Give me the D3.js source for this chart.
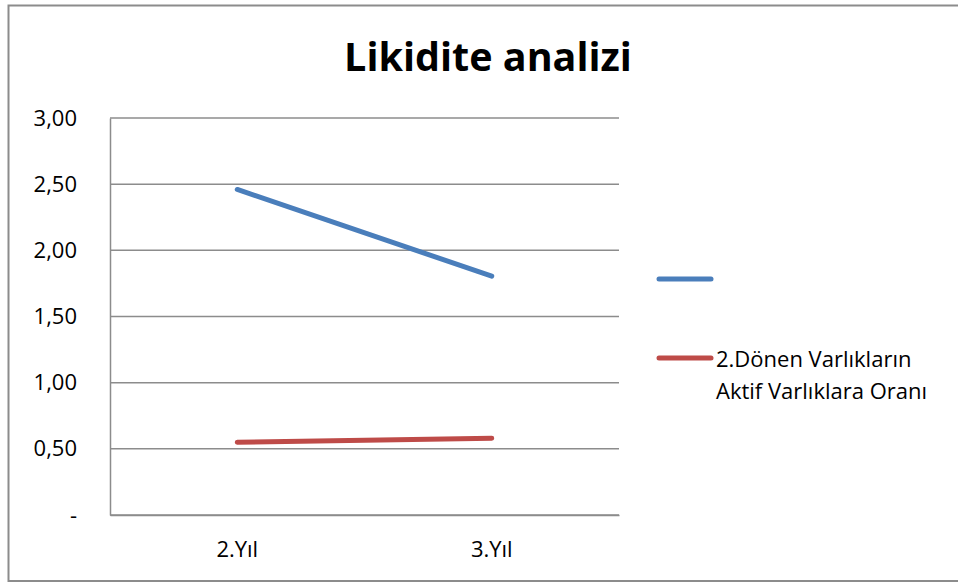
<!DOCTYPE html>
<html>
<head>
<meta charset="utf-8">
<script src="https://cdnjs.cloudflare.com/ajax/libs/d3/7.8.5/d3.min.js"></script>
<style>
  body { margin: 0; background: #fff; }
  text { font-family: "Open Sans", sans-serif; fill: #000; }
</style>
</head>
<body>
<script>
var categories = ["2.Yıl", "3.Yıl"];
var seriesNames = ["", "2.Dönen Varlıkların Aktif Varlıklara Oranı"];
var seriesColors = ["#4a7ebb", "#be4b48"];
var blueValues = [2.46, 1.805];
var redValues = [0.55, 0.58];
var yTicks = [0, 0.5, 1, 1.5, 2, 2.5, 3];
var yTickLabels = ["-", "0,50", "1,00", "1,50", "2,00", "2,50", "3,00"];

var svgWidth = 958, svgHeight = 583;
var margin = {top: 118, right: 339, bottom: 68, left: 110};
var width = svgWidth - margin.left - margin.right;
var height = svgHeight - margin.top - margin.bottom;

var svg = d3.select("body").append("svg")
  .attr("width", svgWidth)
  .attr("height", svgHeight);

// outer chart border
svg.append("rect")
  .attr("x", 8.5).attr("y", 5.5)
  .attr("width", 960).attr("height", 575.5)
  .attr("fill", "none")
  .attr("stroke", "#8c8c8c")
  .attr("stroke-width", 2);

svg.append("text")
  .attr("x", 488).attr("y", 71)
  .attr("text-anchor", "middle")
  .style("font-size", "39.5px")
  .style("font-weight", "bold")
  .text("Likidite analizi");

var chart = svg.append("g")
  .attr("transform", "translate(" + margin.left + "," + margin.top + ")");

var x = d3.scaleBand().domain(categories).range([0, width]);
var y = d3.scaleLinear().domain([0, 3]).range([height, 0]);

// gridlines
chart.selectAll(".grid")
  .data(yTicks)
  .enter().append("line")
  .attr("x1", 0).attr("x2", width)
  .attr("y1", d => y(d)).attr("y2", d => y(d))
  .attr("stroke", "#8c8c8c")
  .attr("stroke-width", 1.5);

// y axis
var leftAxis = d3.axisLeft(y)
  .tickValues(yTicks)
  .tickSize(0)
  .tickPadding(33)
  .tickFormat((d, i) => yTickLabels[i]);
var gy = chart.append("g").call(leftAxis);
gy.select(".domain").attr("stroke", "#8c8c8c").attr("stroke-width", 1.5);
gy.selectAll("text").style("font-size", "22px").style("font-family", "'Open Sans', sans-serif");

// x axis
var bottomAxis = d3.axisBottom(x).tickSize(0).tickPadding(26);
var gx = chart.append("g")
  .attr("transform", "translate(0," + height + ")")
  .call(bottomAxis);
gx.select(".domain").attr("stroke", "#8c8c8c").attr("stroke-width", 1.5);
gx.selectAll("text").style("font-size", "22px").style("font-family", "'Open Sans', sans-serif");

var line = d3.line()
  .x((d, i) => x(categories[i]) + x.bandwidth() / 2)
  .y(d => y(d));

[blueValues, redValues].forEach(function(vals, i) {
  chart.append("path")
    .datum(vals)
    .attr("d", line)
    .attr("fill", "none")
    .attr("stroke", seriesColors[i])
    .attr("stroke-width", 5)
    .attr("stroke-linecap", "round");
});

// legend
var legend = svg.append("g");
var legendY = [279, 358];
seriesColors.forEach(function(c, i) {
  legend.append("line")
    .attr("x1", 659).attr("x2", 711)
    .attr("y1", legendY[i]).attr("y2", legendY[i])
    .attr("stroke", c)
    .attr("stroke-width", 5)
    .attr("stroke-linecap", "round");
});
var lt = legend.append("text")
  .attr("x", 716).attr("y", 367)
  .style("font-size", "22px");
lt.append("tspan").attr("x", 716).text("2.Dönen Varlıkların");
lt.append("tspan").attr("x", 716).attr("dy", 32).text("Aktif Varlıklara Oranı");
</script>
</body>
</html>
